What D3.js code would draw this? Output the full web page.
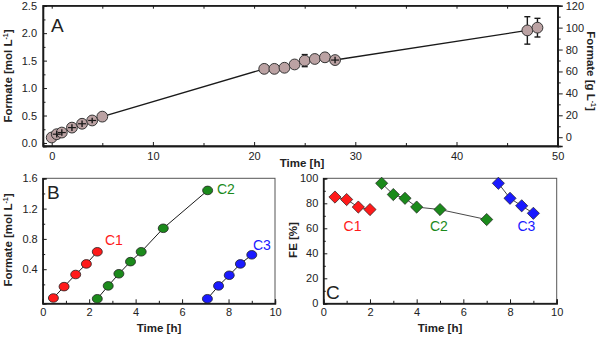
<!DOCTYPE html>
<html>
<head>
<meta charset="utf-8">
<script src="https://cdn.jsdelivr.net/npm/d3@7"></script>
<style>
  body { margin: 0; background: #fff; }
  svg { font-family: "Liberation Sans", Arial, sans-serif; }
  .tick text { font-size: 11px; fill: #222; }
  .axis-title { font-size: 11.5px; font-weight: bold; fill: #222; }
  .panel-label { font-size: 19px; fill: #222; }
</style>
</head>
<body>
<div id="wrapper"></div>
<script>
// Panel A: formate over time (mol/L) with error bars
const timeA = [0, 0.5, 1, 2, 3, 4, 5, 21, 22, 23, 24, 25, 26, 27, 28, 47, 48]
const formateA = [0.1, 0.16, 0.19, 0.28, 0.35, 0.41, 0.48, 1.35, 1.35, 1.37, 1.43, 1.5, 1.53, 1.56, 1.51, 2.05, 2.1]
const errorA = [0.02, 0.06, 0.06, 0.06, 0.06, 0.05, 0.03, 0.05, 0.04, 0.03, 0.03, 0.11, 0.04, 0.07, 0.06, 0.25, 0.17]

// Panel B: formate per cycle
const cycleNames = ["C1", "C2", "C3"]
const cycleColors = ["#ff1a1a", "#1b8a1b", "#1a1aff"]
const timeB = [
  [0.46, 0.92, 1.42, 1.88, 2.35],
  [2.35, 2.82, 3.28, 3.78, 4.24, 5.19, 7.1],
  [7.09, 7.57, 8.03, 8.51, 9.0],
]
const formateB = [
  [0.02, 0.17, 0.33, 0.47, 0.63],
  [0.01, 0.18, 0.34, 0.5, 0.63, 0.94, 1.44],
  [0.01, 0.18, 0.32, 0.47, 0.59],
]

// Panel C: faradaic efficiency per cycle
const timeC = [
  [0.5, 1, 1.5, 2],
  [2.5, 3, 3.5, 4, 5, 7],
  [7.5, 8, 8.5, 9],
]
const feC = [
  [85, 83, 77, 75],
  [96, 87, 84, 77, 75, 67],
  [96, 84, 78, 72],
]

const svg = d3.select("#wrapper")
  .append("svg")
    .attr("width", 600)
    .attr("height", 338)

const ink = "#1a1a1a"

// ---------- Panel A ----------
const xA = d3.scaleLinear().domain([-0.86, 50]).range([43, 557.7])
const yA = d3.scaleLinear().domain([-0.055, 2.5]).range([146, 5.7])
const yA2 = d3.scaleLinear().domain([-8, 120]).range([146, 5.7])

const a = svg.append("g")

a.append("rect")
  .attr("x", xA.range()[0]).attr("y", yA.range()[1])
  .attr("width", xA.range()[1] - xA.range()[0])
  .attr("height", yA.range()[0] - yA.range()[1])
  .attr("fill", "none").attr("stroke", ink).attr("stroke-width", 1.3)

// ticks point inward, except the right axis
a.append("g")
  .attr("transform", `translate(0,${yA.range()[0]})`)
  .call(d3.axisBottom(xA).tickValues(d3.range(0, 51, 10)).tickSize(-4).tickPadding(6))
a.append("g")
  .attr("transform", `translate(0,${yA.range()[0]})`)
  .call(d3.axisBottom(xA).tickValues(d3.range(5, 50, 10)).tickSize(-3).tickFormat(""))
a.append("g")
  .attr("transform", `translate(0,${yA.range()[1]})`)
  .call(d3.axisTop(xA).tickValues(d3.range(0, 51, 5)).tickSize(-3).tickFormat(""))
a.append("g")
  .attr("transform", `translate(${xA.range()[0]},0)`)
  .call(d3.axisLeft(yA).tickValues(d3.range(0, 2.51, 0.5)).tickSize(-4).tickPadding(6).tickFormat(d3.format(".1f")))
a.append("g")
  .attr("transform", `translate(${xA.range()[0]},0)`)
  .call(d3.axisLeft(yA).tickValues(d3.range(0.25, 2.5, 0.5)).tickSize(-2.5).tickFormat(""))
a.append("g")
  .attr("transform", `translate(${xA.range()[1]},0)`)
  .call(d3.axisRight(yA2).tickValues(d3.range(0, 121, 20)).tickSize(5).tickPadding(3))
a.append("g")
  .attr("transform", `translate(${xA.range()[1]},0)`)
  .call(d3.axisRight(yA2).tickValues(d3.range(10, 120, 20)).tickSize(3).tickFormat(""))

const lineA = d3.line()
  .x((d, i) => xA(timeA[i]))
  .y(d => yA(d))
a.append("path")
  .attr("d", lineA(formateA))
  .attr("fill", "none").attr("stroke", ink).attr("stroke-width", 1.4)

const ptsA = timeA.map((t, i) => ({ t, v: formateA[i], e: errorA[i] }))
const errA = a.append("g").attr("stroke", ink).attr("stroke-width", 1.4)
ptsA.forEach(d => {
  const cx = xA(d.t)
  errA.append("line").attr("x1", cx).attr("x2", cx).attr("y1", yA(d.v - d.e)).attr("y2", yA(d.v + d.e))
  errA.append("line").attr("x1", cx - 3).attr("x2", cx + 3).attr("y1", yA(d.v - d.e)).attr("y2", yA(d.v - d.e))
  errA.append("line").attr("x1", cx - 3).attr("x2", cx + 3).attr("y1", yA(d.v + d.e)).attr("y2", yA(d.v + d.e))
})
a.selectAll(".ptA")
  .data(ptsA)
  .join("circle")
    .attr("cx", d => xA(d.t))
    .attr("cy", d => yA(d.v))
    .attr("r", 5.4)
    .attr("fill", "#bba2a3")
    .attr("stroke", "#333")
    .attr("stroke-width", 1)
// small error bars show through the marker as a cross
ptsA.filter(d => d.t > 0 && d.t < 5 || d.t === 28).forEach(d => {
  const cx = xA(d.t)
  a.append("line").attr("x1", cx).attr("x2", cx).attr("y1", yA(d.v - d.e)).attr("y2", yA(d.v + d.e)).attr("stroke", ink).attr("stroke-width", 1.4)
  a.append("line").attr("x1", cx - 4).attr("x2", cx + 4).attr("y1", yA(d.v)).attr("y2", yA(d.v)).attr("stroke", ink).attr("stroke-width", 1.2)
})

a.append("text").attr("class", "panel-label").attr("x", 51).attr("y", 32).text("A")
a.append("text").attr("class", "axis-title").attr("x", 302).attr("y", 167).attr("text-anchor", "middle").text("Time [h]")
a.append("text").attr("class", "axis-title")
  .attr("transform", "translate(12,76) rotate(-90)").attr("text-anchor", "middle")
  .html('Formate [mol L<tspan dy="-4" font-size="7">-1</tspan><tspan dy="4">]</tspan>')
a.append("text").attr("class", "axis-title")
  .attr("transform", "translate(587,71) rotate(90)").attr("text-anchor", "middle")
  .html('Formate [g L<tspan dy="-4" font-size="7">-1</tspan><tspan dy="4">]</tspan>')

// ---------- Panel B ----------
const xB = d3.scaleLinear().domain([0, 10]).range([42.7, 275])
const yB = d3.scaleLinear().domain([-0.05, 1.6]).range([303.3, 178.3])
const b = svg.append("g")

b.append("rect")
  .attr("x", 42.7).attr("y", 178.3).attr("width", 275 - 42.7).attr("height", 303.3 - 178.3)
  .attr("fill", "none").attr("stroke", "#555").attr("stroke-width", 1)
b.append("g")
  .attr("transform", `translate(0,${yB.range()[0]})`)
  .call(d3.axisBottom(xB).tickValues(d3.range(0, 11, 2)).tickSize(-4).tickPadding(5))
b.append("g")
  .attr("transform", `translate(0,${yB.range()[0]})`)
  .call(d3.axisBottom(xB).tickValues(d3.range(1, 10, 2)).tickSize(-2.5).tickFormat(""))
b.append("g")
  .attr("transform", `translate(${xB.range()[0]},0)`)
  .call(d3.axisLeft(yB).tickValues([0.4, 0.8, 1.2, 1.6]).tickSize(-4).tickPadding(5).tickFormat(d3.format(".1f")))
b.append("g")
  .attr("transform", `translate(${xB.range()[0]},0)`)
  .call(d3.axisLeft(yB).tickValues([0.2, 0.6, 1.0, 1.4]).tickSize(-2.5).tickFormat(""))

cycleNames.forEach((name, k) => {
  const line = d3.line().x((d, i) => xB(timeB[k][i])).y(d => yB(d))
  b.append("path").attr("d", line(formateB[k]))
    .attr("fill", "none").attr("stroke", ink).attr("stroke-width", 1)
  b.selectAll(`.ptB${k}`)
    .data(formateB[k])
    .join("ellipse")
      .attr("cx", (d, i) => xB(timeB[k][i]))
      .attr("cy", d => yB(d))
      .attr("rx", 5).attr("ry", 4.3)
      .attr("fill", cycleColors[k])
      .attr("stroke", "#222").attr("stroke-width", 0.8)
})
const labB = [[2.68, 0.785], [7.5, 1.46], [9.05, 0.72]]
cycleNames.forEach((name, k) => {
  b.append("text").attr("x", xB(labB[k][0])).attr("y", yB(labB[k][1]) + 5)
    .attr("font-size", 14).attr("fill", cycleColors[k]).text(name)
})
b.append("text").attr("class", "panel-label").attr("x", 47).attr("y", 199).text("B")
b.append("text").attr("class", "axis-title").attr("x", 159).attr("y", 332).attr("text-anchor", "middle").text("Time [h]")
b.append("text").attr("class", "axis-title")
  .attr("transform", "translate(12,240) rotate(-90)").attr("text-anchor", "middle")
  .html('Formate [mol L<tspan dy="-4" font-size="7">-1</tspan><tspan dy="4">]</tspan>')

// ---------- Panel C ----------
const xC = d3.scaleLinear().domain([0, 10]).range([323.3, 556.7])
const yC = d3.scaleLinear().domain([0, 100]).range([303.3, 178.3])
const c = svg.append("g")

c.append("rect")
  .attr("x", 323.3).attr("y", 178.3).attr("width", 556.7 - 323.3).attr("height", 303.3 - 178.3)
  .attr("fill", "none").attr("stroke", "#555").attr("stroke-width", 1)
c.append("g")
  .attr("transform", `translate(0,${yC.range()[0]})`)
  .call(d3.axisBottom(xC).tickValues(d3.range(0, 11, 2)).tickSize(-4).tickPadding(5))
c.append("g")
  .attr("transform", `translate(0,${yC.range()[0]})`)
  .call(d3.axisBottom(xC).tickValues(d3.range(1, 10, 2)).tickSize(-2.5).tickFormat(""))
c.append("g")
  .attr("transform", `translate(${xC.range()[0]},0)`)
  .call(d3.axisLeft(yC).tickValues(d3.range(0, 101, 20)).tickSize(-4).tickPadding(5))
c.append("g")
  .attr("transform", `translate(${xC.range()[0]},0)`)
  .call(d3.axisLeft(yC).tickValues(d3.range(10, 100, 20)).tickSize(-2.5).tickFormat(""))

const diamond = d3.symbol().type(d3.symbolDiamond2).size(95)
cycleNames.forEach((name, k) => {
  const line = d3.line().x((d, i) => xC(timeC[k][i])).y(d => yC(d))
  c.append("path").attr("d", line(feC[k]))
    .attr("fill", "none").attr("stroke", "#333").attr("stroke-width", 0.9)
  c.selectAll(`.ptC${k}`)
    .data(feC[k])
    .join("path")
      .attr("d", diamond)
      .attr("transform", (d, i) => `translate(${xC(timeC[k][i])},${yC(d)})`)
      .attr("fill", cycleColors[k])
      .attr("stroke", "#222").attr("stroke-width", 0.7)
})
const labC = [1.25, 4.95, 8.7]
cycleNames.forEach((name, k) => {
  c.append("text").attr("x", xC(labC[k])).attr("y", yC(57.5))
    .attr("text-anchor", "middle").attr("font-size", 14).attr("fill", cycleColors[k]).text(name)
})
c.append("text").attr("class", "panel-label").attr("x", 326).attr("y", 299).text("C")
c.append("text").attr("class", "axis-title").attr("x", 440).attr("y", 332).attr("text-anchor", "middle").text("Time [h]")
c.append("text").attr("class", "axis-title")
  .attr("transform", "translate(297,240) rotate(-90)").attr("text-anchor", "middle")
  .text("FE [%]")

// common axis styling
svg.selectAll(".domain").attr("stroke", ink).attr("stroke-width", 1.3)
svg.selectAll(".tick line").attr("stroke", ink)
svg.selectAll(".tick text").attr("fill", "#222")
</script>
</body>
</html>
